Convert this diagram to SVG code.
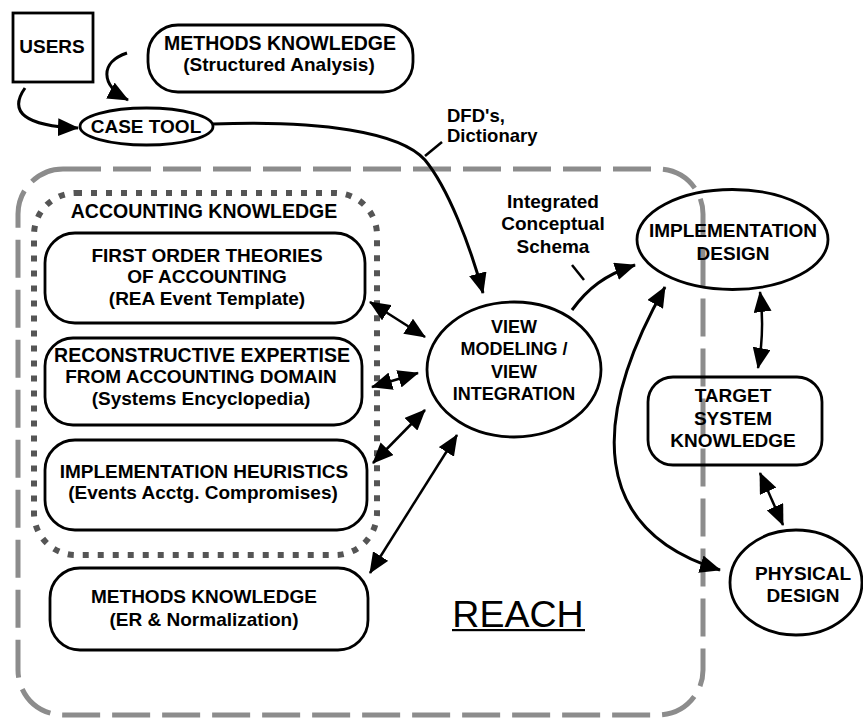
<svg xmlns="http://www.w3.org/2000/svg" width="863" height="719" viewBox="0 0 863 719">
  <style>
    text { font-family: "Liberation Sans", Arial, sans-serif; font-weight: bold; font-size: 19px; fill: #000; text-anchor: middle; }
    .node { fill: none; stroke: #000; stroke-width: 2.8; }
    .conn { fill: none; stroke: #000; stroke-width: 3; }
    .dbl { fill: none; stroke: #000; stroke-width: 2.5; marker-start: url(#ah); marker-end: url(#ah); }
    .one { marker-end: url(#ah); }
    .tick { fill: none; stroke: #000; stroke-width: 2.5; }
    .reach { fill: none; stroke: #8c8c8c; stroke-width: 5; stroke-dasharray: 38 12; }
    .acct { fill: none; stroke: #555; stroke-width: 6; stroke-dasharray: 6 9; }
    .lbl { text-anchor: start; font-size: 18.5px; }
  </style>
  <defs>
    <marker id="ah" markerUnits="userSpaceOnUse" markerWidth="22" markerHeight="18" viewBox="0 0 22 18" refX="20" refY="9" orient="auto-start-reverse">
      <path d="M0,0 L21,9 L0,18 Z" fill="#000"/>
    </marker>
  </defs>
  <rect width="863" height="719" fill="#fff"/>

  <!-- REACH system boundary -->
  <g id="reach-boundary">
    <rect class="reach" x="18" y="169" width="685" height="546" rx="45"/>
    <text x="518" y="627" style="font-weight: normal; font-size: 37.5px;">REACH</text>
    <rect x="452" y="629" width="133" height="2.2" fill="#000"/>
  </g>

  <!-- accounting knowledge grouping -->
  <g id="accounting-knowledge">
    <rect class="acct" x="34" y="193" width="343" height="362" rx="42"/>
    <text x="204" y="218" style="font-size: 19.5px;">ACCOUNTING KNOWLEDGE</text>
  </g>

  <g id="users">
    <rect class="node" x="13" y="13" width="80" height="69"/>
    <text x="52" y="53">USERS</text>
  </g>

  <g id="methods-structured">
    <rect class="node" x="148" y="25" width="265" height="67" rx="30"/>
    <text x="280" y="50" style="font-size: 19.5px;">METHODS KNOWLEDGE</text>
    <text x="279" y="71">(Structured Analysis)</text>
  </g>

  <g id="case-tool">
    <ellipse class="node" cx="146.5" cy="126.5" rx="66.5" ry="18.5"/>
    <text x="146" y="133">CASE TOOL</text>
  </g>

  <g id="first-order">
    <rect class="node" x="45" y="233" width="320" height="90" rx="30"/>
    <text x="207" y="262">FIRST ORDER THEORIES</text>
    <text x="207" y="283">OF ACCOUNTING</text>
    <text x="207" y="305">(REA Event Template)</text>
  </g>

  <g id="reconstructive">
    <rect class="node" x="45" y="338" width="317" height="87" rx="28"/>
    <text x="202" y="362" style="font-size: 19.5px;">RECONSTRUCTIVE EXPERTISE</text>
    <text x="201" y="383">FROM ACCOUNTING DOMAIN</text>
    <text x="201" y="405">(Systems Encyclopedia)</text>
  </g>

  <g id="heuristics">
    <rect class="node" x="45" y="440" width="322" height="90" rx="30"/>
    <text x="204" y="478">IMPLEMENTATION HEURISTICS</text>
    <text x="203" y="499">(Events Acctg. Compromises)</text>
  </g>

  <g id="methods-er">
    <rect class="node" x="50" y="568" width="318" height="82" rx="30"/>
    <text x="204" y="603">METHODS KNOWLEDGE</text>
    <text x="204" y="626">(ER &amp; Normalization)</text>
  </g>

  <g id="view-modeling">
    <ellipse class="node" cx="514" cy="369.5" rx="87" ry="67.5"/>
    <text x="514" y="333" style="font-size: 18px;">VIEW</text>
    <text x="514" y="355" style="font-size: 18px;">MODELING /</text>
    <text x="514" y="378" style="font-size: 18px;">VIEW</text>
    <text x="514" y="400" style="font-size: 18px;">INTEGRATION</text>
  </g>

  <g id="implementation-design">
    <ellipse class="node" cx="732.5" cy="239.5" rx="95.5" ry="50"/>
    <text x="733" y="237">IMPLEMENTATION</text>
    <text x="733" y="260">DESIGN</text>
  </g>

  <g id="target-system">
    <rect class="node" x="648" y="377" width="174" height="88" rx="25"/>
    <text x="733" y="402">TARGET</text>
    <text x="733" y="425">SYSTEM</text>
    <text x="733" y="447">KNOWLEDGE</text>
  </g>

  <g id="physical-design">
    <ellipse class="node" cx="796" cy="582.5" rx="66" ry="52.5"/>
    <text x="803" y="580">PHYSICAL</text>
    <text x="803" y="602">DESIGN</text>
  </g>

  <!-- flow labels -->
  <g id="labels">
    <text class="lbl" x="447" y="122">DFD's,</text>
    <text class="lbl" x="447" y="142">Dictionary</text>
    <line class="tick" x1="425" y1="156" x2="442" y2="142"/>
    <text x="553" y="208">Integrated</text>
    <text x="553" y="230">Conceptual</text>
    <text x="553" y="253">Schema</text>
    <line class="tick" x1="572" y1="265" x2="584" y2="280"/>
  </g>

  <g id="connectors">
    <path class="conn one" d="M 25 88 C 8 112, 25 126, 78 128"/>
    <path class="conn one" d="M 127 53 C 100 62, 100 85, 128 100"/>
    <path class="conn one" d="M 213 124 C 320 120, 400 132, 425 160 C 448 188, 470 245, 483 293"/>
    <path class="conn one" d="M 572 310 C 588 288, 605 275, 635 265"/>
    <path class="dbl" d="M 370 302 L 425 337"/>
    <path class="dbl" d="M 372 387 L 418 373"/>
    <path class="dbl" d="M 373 463 L 425 410"/>
    <path class="dbl" d="M 370 573 L 457 435"/>
    <path class="dbl" d="M 760 292 Q 765 330 758 368"/>
    <path class="dbl" d="M 760 473 Q 772 500 783 525"/>
    <path class="dbl" style="stroke-width: 3;" d="M 665 287 C 590 420, 590 530, 720 570"/>
  </g>
</svg>
